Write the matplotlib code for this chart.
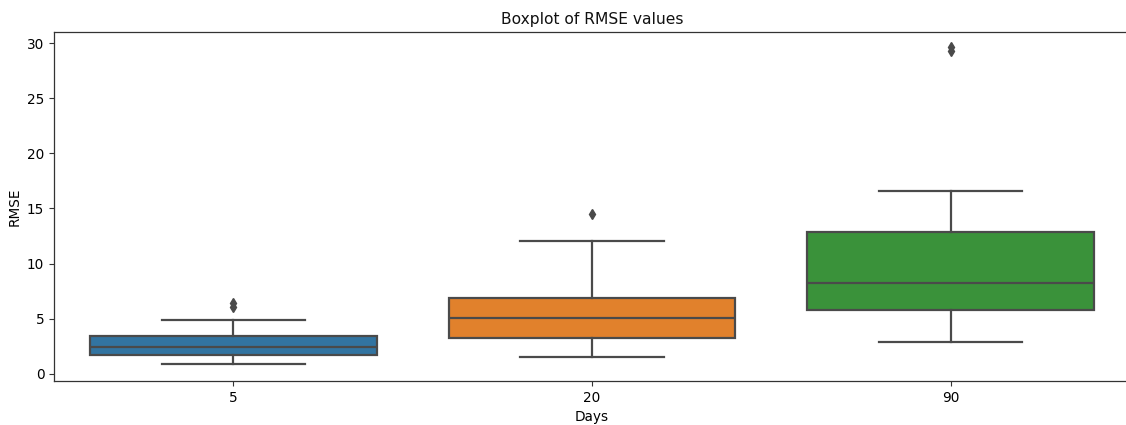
import matplotlib
matplotlib.use("Agg")
import matplotlib.pyplot as plt

# RMSE box statistics per horizon
days = ["5", "20", "90"]
q1 = [1.70, 3.24, 5.81]
median = [2.42, 5.08, 8.23]
q3 = [3.45, 6.87, 12.91]
whisker_low = [0.88, 1.57, 2.87]
whisker_high = [4.87, 12.07, 16.60]
outliers = [[6.10, 6.40], [14.46], [29.25, 29.65]]

colors = ["#3274a1", "#e1812c", "#3a923a"]
gray = "#4a4a4a"

stats = []
for i, d in enumerate(days):
    stats.append({
        "label": d,
        "q1": q1[i],
        "med": median[i],
        "q3": q3[i],
        "whislo": whisker_low[i],
        "whishi": whisker_high[i],
        "fliers": outliers[i],
    })

fig = plt.figure(figsize=(11.26, 4.25), dpi=100)
ax = fig.add_axes([54 / 1126, 44 / 425, 1076 / 1126, 349 / 425])

bp = ax.bxp(
    stats,
    positions=range(len(days)),
    widths=0.8,
    patch_artist=True,
    boxprops=dict(edgecolor=gray, linewidth=1.6),
    medianprops=dict(color=gray, linewidth=1.6),
    whiskerprops=dict(color=gray, linewidth=1.6),
    capprops=dict(color=gray, linewidth=1.6),
    flierprops=dict(marker="d", markerfacecolor=gray, markeredgecolor=gray,
                    markersize=5, linestyle="none"),
    capwidths=0.4,
)
for patch, c in zip(bp["boxes"], colors):
    patch.set_facecolor(c)

ax.set_xlim(-0.5, len(days) - 0.5)
ax.set_ylim(-0.64, 31.0)
ax.set_yticks([0, 5, 10, 15, 20, 25, 30])
ax.set_xticks(range(len(days)))
ax.set_xticklabels(days)
ax.tick_params(labelsize=9.8, length=3.5, color="#333333")
for s in ax.spines.values():
    s.set_color("#333333")
    s.set_linewidth(0.9)

ax.set_title("Boxplot of RMSE values", fontsize=11.2, color="#111111")
ax.set_xlabel("Days", fontsize=9.8)
ax.set_ylabel("RMSE", fontsize=9.8)

fig.savefig("out.png", dpi=100)
